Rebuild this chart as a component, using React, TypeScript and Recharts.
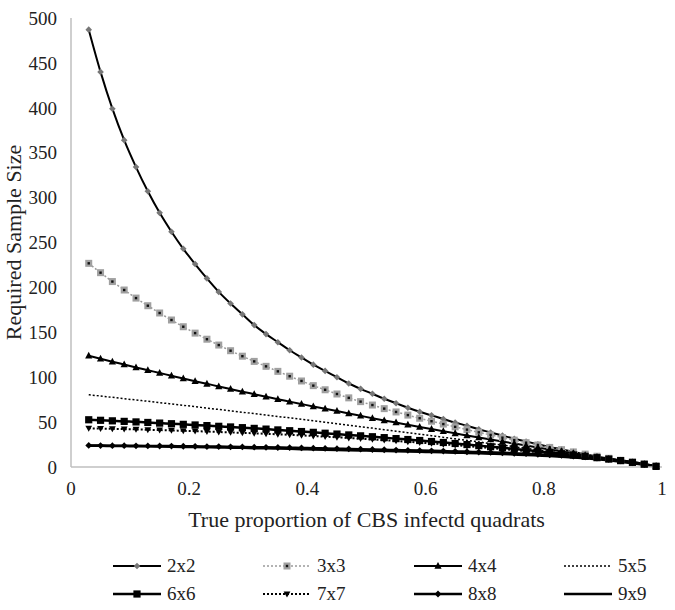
import React from "react";
import { LineChart, Line, XAxis, YAxis } from "recharts";

// true proportion of infected quadrats
const proportions = [
  0.03, 0.05, 0.07, 0.09, 0.11, 0.13, 0.15, 0.17, 0.19, 0.21, 0.23, 0.25, 0.27, 0.29, 0.31, 0.33, 0.35,
  0.37, 0.39, 0.41, 0.43, 0.45, 0.47, 0.49, 0.51, 0.53, 0.55, 0.57, 0.59, 0.61, 0.63, 0.65, 0.67, 0.69,
  0.71, 0.73, 0.75, 0.77, 0.79, 0.81, 0.83, 0.85, 0.87, 0.89, 0.91, 0.93, 0.95, 0.97, 0.99,
];

const size2x2 = [
  487, 440, 399, 364, 334, 307, 283, 262, 243, 226, 210, 195, 182, 170, 158, 148, 139, 130, 122, 114,
  107, 100, 93, 87, 81.5, 76, 71, 66, 61.5, 57.5, 53.5, 49.5, 46, 42, 38.5, 35, 31.5, 28.3, 25.3, 22.3,
  19.6, 16.9, 14.2, 11.6, 9.1, 6.8, 4.6, 2.5, 0.6,
];
const size3x3 = [
  226.8, 216.4, 206.5, 197.1, 188.1, 179.6, 171.5, 163.7, 156.2, 149.1, 142.3, 135.8, 129.5, 123.4,
  117.6, 112.1, 106.5, 101.1, 95.8, 90.6, 86.0, 81.3, 77.0, 72.8, 69.0, 65.0, 61.3, 57.8, 54.3, 51.0,
  47.8, 44.7, 41.6, 38.6, 35.7, 32.7, 29.9, 27.1, 24.5, 21.8, 19.3, 16.8, 14.4, 12.0, 9.7, 7.5, 5.3,
  3.1, 1.0,
];
const size4x4 = [
  123.9, 120.6, 117.3, 114.1, 110.9, 107.8, 104.7, 101.6, 98.5, 95.5, 92.6, 89.7, 86.8, 83.9, 81.1,
  78.3, 75.5, 72.8, 70.1, 67.4, 64.9, 62.3, 59.6, 57.0, 54.4, 51.9, 49.5, 47.0, 44.6, 42.2, 39.8, 37.5,
  35.1, 32.8, 30.6, 28.3, 26.1, 23.9, 21.7, 19.5, 17.4, 15.3, 13.2, 11.1, 9.0, 7.0, 5.0, 3.0, 1.0,
];
const size5x5 = [
  80.5, 79.0, 77.6, 76.1, 74.6, 73.2, 71.7, 70.2, 68.7, 67.2, 65.6, 64.1, 62.6, 61.0, 59.4, 57.9, 56.3,
  54.7, 53.1, 51.5, 49.9, 48.2, 46.6, 44.9, 43.3, 41.6, 39.9, 38.2, 36.5, 34.8, 33.1, 31.4, 29.6, 27.9,
  26.1, 24.4, 22.6, 20.8, 19.0, 17.2, 15.4, 13.6, 11.7, 9.9, 8.1, 6.2, 4.3, 2.4, 0.6,
];
const size6x6 = [
  52.6, 52.0, 51.4, 50.8, 50.2, 49.6, 48.9, 48.2, 47.5, 46.8, 46.1, 45.3, 44.6, 43.8, 43.0, 42.2, 41.3,
  40.4, 39.5, 38.6, 37.6, 36.7, 35.7, 34.7, 33.7, 32.7, 31.6, 30.6, 29.5, 28.4, 27.3, 26.2, 25.0, 23.8,
  22.6, 21.4, 20.1, 18.8, 17.5, 16.2, 14.8, 13.4, 11.9, 10.4, 8.8, 7.1, 5.2, 3.1, 0.7,
];
const size7x7 = [
  43.1, 42.8, 42.5, 42.2, 41.9, 41.5, 41.1, 40.7, 40.3, 39.9, 39.5, 39.0, 38.5, 38.0, 37.5, 37.0, 36.4,
  35.8, 35.2, 34.5, 33.8, 33.1, 32.3, 31.5, 30.7, 29.9, 29.0, 28.1, 27.2, 26.3, 25.3, 24.3, 23.3, 22.2,
  21.1, 20.0, 18.9, 17.7, 16.5, 15.3, 14.0, 12.7, 11.3, 9.9, 8.4, 6.8, 5.0, 2.9, 0.6,
];
const size8x8 = [
  24.0, 23.9, 23.8, 23.7, 23.6, 23.5, 23.4, 23.3, 23.1, 23.0, 22.8, 22.7, 22.5, 22.3, 22.1, 21.9, 21.7,
  21.5, 21.2, 21.0, 20.7, 20.4, 20.1, 19.8, 19.5, 19.2, 18.9, 18.6, 18.3, 18.0, 17.7, 17.4, 17.0, 16.6,
  16.2, 15.8, 15.3, 14.8, 14.2, 13.6, 12.9, 12.1, 11.2, 10.1, 8.8, 7.2, 5.3, 3.1, 0.7,
];
const size9x9 = [
  23.7, 23.6, 23.4, 23.3, 23.1, 23.0, 22.8, 22.6, 22.4, 22.2, 22.0, 21.8, 21.5, 21.3, 21.0, 20.8, 20.5,
  20.2, 19.9, 19.6, 19.3, 19.0, 18.7, 18.4, 18.1, 17.8, 17.5, 17.2, 16.9, 16.6, 16.3, 16.0, 15.6, 15.2,
  14.8, 14.4, 13.9, 13.4, 12.8, 12.2, 11.5, 10.7, 9.8, 8.7, 7.4, 5.9, 4.2, 2.4, 0.5,
];

const xTicks = [0, 0.2, 0.4, 0.6, 0.8, 1];
const yTicks = [0, 50, 100, 150, 200, 250, 300, 350, 400, 450, 500];

const data = proportions.map((p, i) => ({
  p,
  s2: size2x2[i],
  s3: size3x3[i],
  s4: size4x4[i],
  s5: size5x5[i],
  s6: size6x6[i],
  s7: size7x7[i],
  s8: size8x8[i],
  s9: size9x9[i],
}));

const FONT = "'Liberation Serif', 'Times New Roman', serif";

type MarkerKind = "diamondGray" | "squareGray" | "triUp" | "square" | "triDown" | "diamond" | "none";

function Marker({ kind, cx, cy }: { kind: MarkerKind; cx: number; cy: number }) {
  switch (kind) {
    case "diamondGray":
      return <polygon points={`${cx},${cy - 3.3} ${cx + 3.3},${cy} ${cx},${cy + 3.3} ${cx - 3.3},${cy}`} fill="#777" />;
    case "squareGray":
      return (
        <g>
          <rect x={cx - 3.5} y={cy - 3.5} width={7} height={7} fill="#a0a0a0" />
          <rect x={cx - 1.2} y={cy - 1.2} width={2.4} height={2.4} fill="#111" />
        </g>
      );
    case "triUp":
      return <polygon points={`${cx},${cy - 4} ${cx + 3.6},${cy + 2.8} ${cx - 3.6},${cy + 2.8}`} fill="#000" />;
    case "square":
      return <rect x={cx - 3.6} y={cy - 3.6} width={7.2} height={7.2} fill="#000" />;
    case "triDown":
      return <polygon points={`${cx - 3.4},${cy - 2.6} ${cx + 3.4},${cy - 2.6} ${cx},${cy + 3.4}`} fill="#000" />;
    case "diamond":
      return <polygon points={`${cx},${cy - 3.4} ${cx + 3.4},${cy} ${cx},${cy + 3.4} ${cx - 3.4},${cy}`} fill="#000" />;
    default:
      return null;
  }
}

const makeDot = (kind: MarkerKind) => (props: any) => {
  const { cx, cy, index } = props;
  return (
    <g key={`${kind}-${index}`}>
      <Marker kind={kind} cx={cx} cy={cy} />
    </g>
  );
};

const series = [
  { key: "s2", name: "2x2", stroke: "#000", width: 2, dash: undefined, marker: "diamondGray" as MarkerKind },
  { key: "s3", name: "3x3", stroke: "#9a9a9a", width: 1.5, dash: "2 2", marker: "squareGray" as MarkerKind },
  { key: "s4", name: "4x4", stroke: "#000", width: 2, dash: undefined, marker: "triUp" as MarkerKind },
  { key: "s5", name: "5x5", stroke: "#000", width: 1.5, dash: "2 2", marker: "none" as MarkerKind },
  { key: "s6", name: "6x6", stroke: "#000", width: 2.5, dash: undefined, marker: "square" as MarkerKind },
  { key: "s7", name: "7x7", stroke: "#000", width: 2, dash: "2 2", marker: "triDown" as MarkerKind },
  { key: "s8", name: "8x8", stroke: "#000", width: 2.5, dash: undefined, marker: "diamond" as MarkerKind },
  { key: "s9", name: "9x9", stroke: "#000", width: 2.5, dash: undefined, marker: "none" as MarkerKind },
];

const legendCols = [113, 263, 414, 564];
const legendRows = [566, 594];

function ChartLegend() {
  return (
    <>
      {series.map((s, i) => {
        const left = legendCols[i % 4];
        const top = legendRows[Math.floor(i / 4)];
        return (
          <div key={s.key} style={{ position: "absolute", left, top: top - 11, height: 22, display: "flex", alignItems: "center" }}>
            <svg width={48} height={22}>
              <line x1={0} y1={11} x2={48} y2={11} stroke={s.stroke} strokeWidth={s.width} strokeDasharray={s.dash} />
              <Marker kind={s.marker} cx={24} cy={11} />
            </svg>
            <span style={{ marginLeft: 6, fontFamily: FONT, fontSize: 19, color: "#222" }}>{s.name}</span>
          </div>
        );
      })}
    </>
  );
}

const YTitle = (props: any) => {
  const vb = props.viewBox || {};
  const cx = 13;
  const cy = (vb.y ?? 18) + (vb.height ?? 449) / 2;
  return (
    <text x={cx} y={cy} transform={`rotate(-90 ${cx} ${cy})`} textAnchor="middle" dominantBaseline="central"
      fontFamily={FONT} fontSize={22} fill="#222">
      Required Sample Size
    </text>
  );
};

export default function App() {
  return (
    <div style={{ position: "absolute", left: 0, top: 0, width: 675, height: 610, background: "#fff" }}>
      <LineChart width={675} height={610} data={data} margin={{ top: 18, right: 13, left: 0, bottom: 73 }}>
        <XAxis
          type="number"
          dataKey="p"
          domain={[0, 1]}
          ticks={xTicks}
          tickLine={false}
          tickMargin={9}
          height={70}
          axisLine={{ stroke: "#bfbfbf", strokeWidth: 1.5 }}
          tick={{ fontFamily: FONT, fontSize: 19, fill: "#222" }}
          tickFormatter={(v: number) => String(v)}
          label={{ value: "True proportion of CBS infectd quadrats", position: "insideBottom", offset: 10, style: { fontFamily: FONT, fontSize: 22, fill: "#222" } }}
        />
        <YAxis
          domain={[0, 500]}
          ticks={yTicks}
          width={71}
          tickLine={false}
          tickMargin={8}
          axisLine={{ stroke: "#bfbfbf", strokeWidth: 1.5 }}
          tick={{ fontFamily: FONT, fontSize: 19, fill: "#222" }}
          label={<YTitle />}
        />
        {series.map((s) => (
          <Line
            key={s.key}
            type="monotone"
            dataKey={s.key}
            name={s.name}
            stroke={s.stroke}
            strokeWidth={s.width}
            strokeDasharray={s.dash}
            dot={s.marker === "none" ? false : makeDot(s.marker)}
            activeDot={false}
            isAnimationActive={false}
          />
        ))}
      </LineChart>
      <ChartLegend />
    </div>
  );
}
